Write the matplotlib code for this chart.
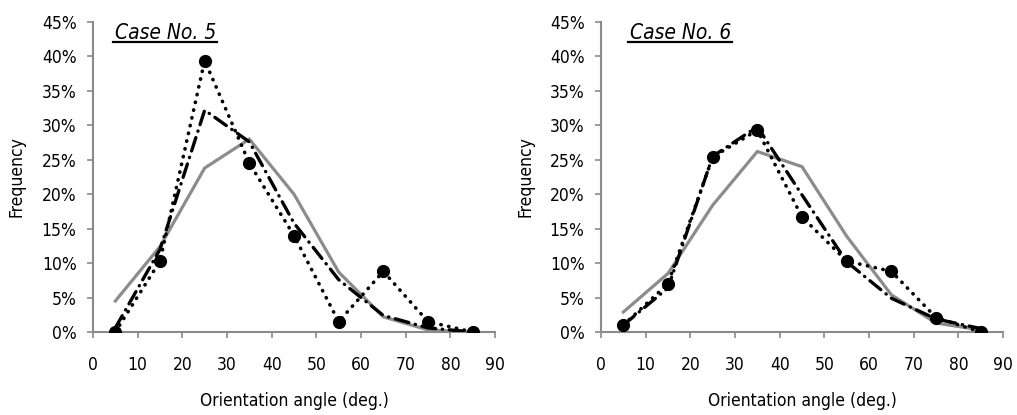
import matplotlib
matplotlib.use("Agg")
import matplotlib.pyplot as plt
from matplotlib.ticker import FuncFormatter, MultipleLocator
from matplotlib.lines import Line2D

angles = [5, 15, 25, 35, 45, 55, 65, 75, 85]

case5_measured = [0.0, 10.3, 39.4, 24.5, 14.0, 1.5, 8.8, 1.5, 0.0]
case5_dashdot = [0.6, 12.0, 32.2, 27.6, 15.8, 7.6, 2.4, 0.6, 0.0]
case5_gray = [4.5, 12.4, 23.8, 28.0, 20.0, 8.7, 2.2, 0.3, 0.0]

case6_measured = [1.0, 7.0, 25.4, 29.3, 16.7, 10.3, 8.8, 2.1, 0.0]
case6_dashdot = [1.0, 6.4, 25.5, 29.8, 19.9, 10.2, 4.9, 1.9, 0.5]
case6_gray = [2.9, 8.5, 18.4, 26.2, 24.0, 13.9, 5.4, 1.3, 0.3]

titles = ["Case No. 5", "Case No. 6"]
xticks = [0, 10, 20, 30, 40, 50, 60, 70, 80, 90]
xlabel = "Orientation angle (deg.)"
ylabel = "Frequency"

plt.rcParams["font.family"] = ["DejaVu Sans"]
plt.rcParams["font.stretch"] = "condensed"

W, H = 1017, 415
fig = plt.figure(figsize=(W / 100, H / 100), dpi=100)

axis_gray = "#8a8a8a"
line_gray = "#8c8c8c"
FS = 12.5

panels = [
    (93, 22, titles[0], case5_measured, case5_dashdot, case5_gray),
    (601, 29, titles[1], case6_measured, case6_dashdot, case6_gray),
]

for left_px, tx_px, title, meas, dd, gr in panels:
    ax = fig.add_axes([left_px / W, (H - 332) / H, 402 / W, 310 / H])
    ax.plot(angles, gr, color=line_gray, lw=2.3, solid_joinstyle="miter", zorder=2)
    ax.plot(angles, dd, color="black", lw=2.4, linestyle=(0, (4.2, 2.0, 0.1, 2.0)),
            dash_capstyle="round", zorder=3)
    ax.plot(angles, meas, color="black", lw=2.6, linestyle=(0, (0.1, 2.1)),
            dash_capstyle="round", marker="o", markersize=8.5,
            markerfacecolor="black", markeredgecolor="black", zorder=4)

    ax.set_xlim(0, 90)
    ax.set_ylim(0, 45)
    ax.set_xticks(xticks)
    ax.yaxis.set_major_locator(MultipleLocator(5))
    ax.yaxis.set_major_formatter(FuncFormatter(lambda v, p: f"{v:.0f}%"))
    for s in ["top", "right"]:
        ax.spines[s].set_visible(False)
    for s in ["left", "bottom"]:
        ax.spines[s].set_color(axis_gray)
        ax.spines[s].set_linewidth(1.5)
    ax.tick_params(axis="both", direction="out", length=4.3, width=1.2,
                   color=axis_gray, labelsize=FS, labelcolor="black")
    ax.tick_params(axis="x", pad=13)
    ax.tick_params(axis="y", pad=7.5)
    ax.set_xlabel(xlabel, fontsize=FS)
    ax.set_ylabel(ylabel, fontsize=FS)
    ax.xaxis.set_label_coords(0.5, (332 - 401) / 310)
    ax.xaxis.label.set_va("center")
    ax.yaxis.set_label_coords(-76 / 402, 0.5)
    ax.yaxis.label.set_va("center")
    ax.patch.set_visible(False)

    t = ax.text(tx_px / 402, (332 - 39) / 310, title, transform=ax.transAxes,
                fontsize=15, style="italic", ha="left", va="baseline")
    fig.canvas.draw()
    bb = t.get_window_extent(renderer=fig.canvas.get_renderer())
    x0 = bb.x0 - 2
    x1 = bb.x1 + 1
    yline = H - 42
    fig.add_artist(Line2D([x0 / W, x1 / W], [yline / H, yline / H],
                          transform=fig.transFigure, color="black", lw=1.6))

fig.savefig("out.png", dpi=100)
